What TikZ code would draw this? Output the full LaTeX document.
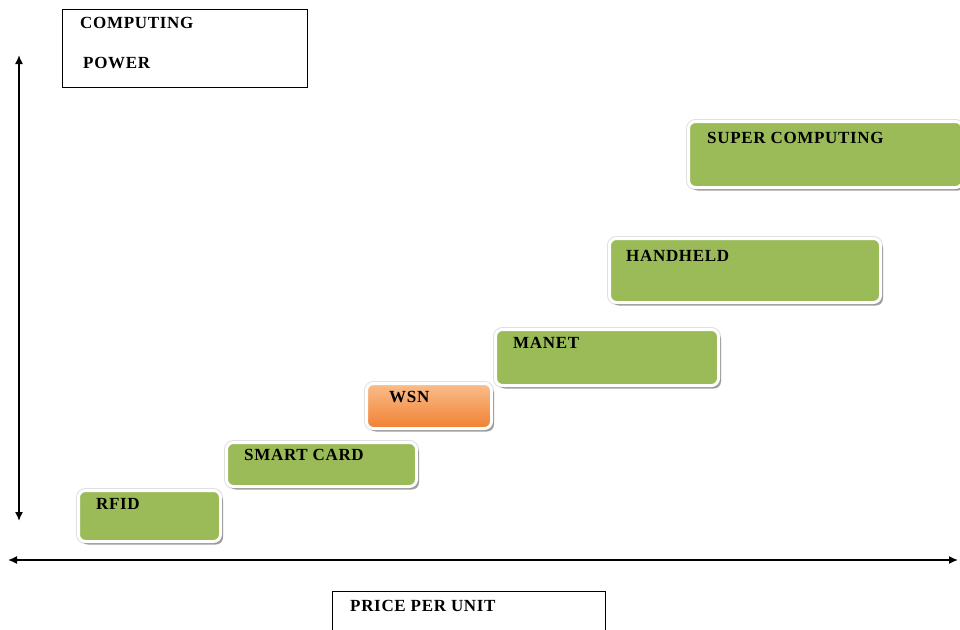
\documentclass[tikz,border=0pt]{standalone}
\usepackage{fontspec}
\setmainfont{Liberation Serif}
\newfontfamily\tierfont[LetterSpace=4]{Liberation Serif}
\usetikzlibrary{arrows.meta,shadows}

\definecolor{leaf}{RGB}{155,187,89}
\definecolor{orangetop}{RGB}{250,190,140}
\definecolor{orangebot}{RGB}{240,128,50}

\tikzset{
  tier/.style={draw=white, line width=3pt, rounded corners=7pt, anchor=north west,
    preaction={draw=black!12, line width=5pt},
    drop shadow={shadow xshift=2.5pt, shadow yshift=-3pt, fill=black!60, opacity=0.6}},
  greentier/.style={tier, fill=leaf},
  orangetier/.style={tier, top color=orangetop, bottom color=orangebot},
  lbl/.style={anchor=base west, inner sep=0pt, font=\tierfont\fontsize{17}{19}\selectfont\bfseries},
  plainbox/.style={draw=black, line width=1pt, anchor=north west, inner sep=0pt},
  axis/.style={line width=1.5pt, {Latex[length=9pt,width=8pt]}-{Latex[length=9pt,width=8pt]}}
}

\begin{document}
\begin{tikzpicture}[x=1pt, y=-1pt]
  \useasboundingbox (0,0) rectangle (960,629);
  \clip (0,0) rectangle (960,629);

  % axis captions
  \node[plainbox, minimum width=245pt, minimum height=78pt] (power) at (62,9) {};
  \node[lbl] (powert1) at (80,28) {COMPUTING};
  \node[lbl] (powert2) at (83,68) {POWER};

  \node[plainbox, minimum width=273pt, minimum height=60pt] (price) at (332,591) {};
  \node[lbl] (pricet) at (350,611) {PRICE PER UNIT};

  % axes
  \coordinate (vtop) at (19,55);
  \coordinate (vbot) at (19,521);
  \draw[axis] (vbot) -- (vtop);
  \coordinate (hleft) at (8,560);
  \coordinate (hright) at (958,560);
  \draw[axis] (hleft) -- (hright);

  % staircase of device classes
  \node[greentier, minimum width=142pt, minimum height=51pt] (rfid) at (77,489) {};
  \node[lbl] (rfidt) at (96,509) {RFID};

  \node[greentier, minimum width=190pt, minimum height=44pt] (smart) at (225,441) {};
  \node[lbl] (smartt) at (244,460) {SMART CARD};

  \node[orangetier, minimum width=125pt, minimum height=45pt] (wsn) at (365,382) {};
  \node[lbl] (wsnt) at (389,402) {WSN};

  \node[greentier, minimum width=223pt, minimum height=56pt] (manet) at (494,328) {};
  \node[lbl] (manett) at (513,348) {MANET};

  \node[greentier, minimum width=271pt, minimum height=64pt] (hand) at (608,237) {};
  \node[lbl] (handt) at (626,261) {HANDHELD};

  \node[greentier, minimum width=274pt, minimum height=66pt] (super) at (687,120) {};
  \node[lbl] (supert) at (707,143) {SUPER COMPUTING};
\end{tikzpicture}
\end{document}
